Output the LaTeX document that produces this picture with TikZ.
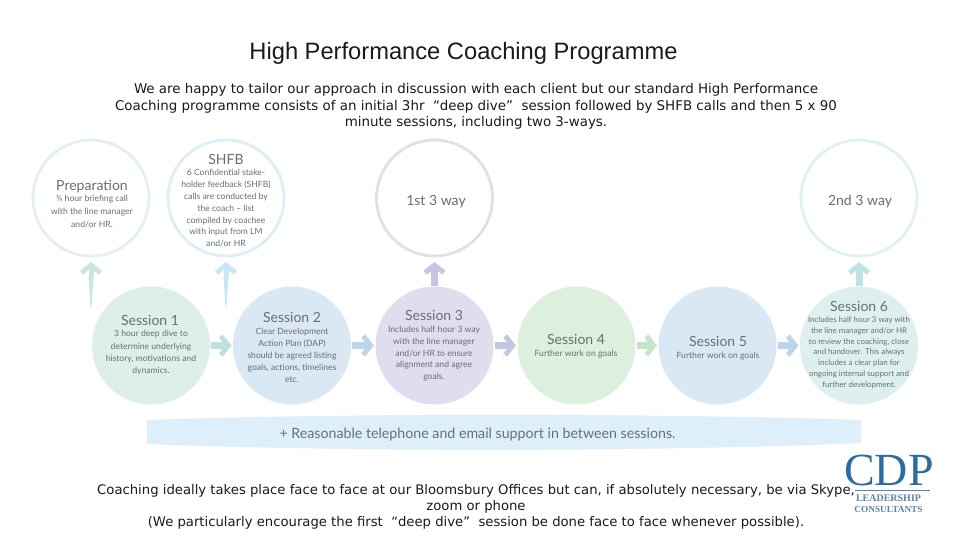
\documentclass[tikz,border=0pt]{standalone}
\usepackage{fontspec}
\setmainfont{DejaVu Sans}
\newfontfamily\titlefont{Liberation Sans}
\newfontfamily\circfont{Lato}
\newfontfamily\logofont{Liberation Serif}
\usetikzlibrary{arrows.meta}
\definecolor{txt}{HTML}{1A1A1A}
\definecolor{ctxt}{HTML}{6A6E72}
\definecolor{cgreen}{HTML}{DDEFE7}
\definecolor{cblue}{HTML}{DAE8F4}
\definecolor{cviolet}{HTML}{DEDEEE}
\definecolor{clime}{HTML}{DDF0DE}
\definecolor{cteal}{HTML}{DDF0EF}
\definecolor{rgreen}{HTML}{E2F1EB}
\definecolor{rblue}{HTML}{DEEEF8}
\definecolor{rgrey}{HTML}{E0E0E7}
\definecolor{rteal}{HTML}{DFF1F1}
\definecolor{band}{HTML}{DDEFFA}
\definecolor{agreen}{HTML}{CBE6DA}
\definecolor{ablue}{HTML}{C9E6F6}
\definecolor{aviolet}{HTML}{C5C6E2}
\definecolor{ateal}{HTML}{BFE3E3}
\definecolor{asteel}{HTML}{BBD6EA}
\definecolor{alime}{HTML}{C4E6C8}
\definecolor{atq}{HTML}{BFE0DE}
\definecolor{logoblue}{HTML}{2B6CA3}
\definecolor{logotext}{HTML}{5F83A3}
\tikzset{
  x=1pt,y=-1pt,
  circ/.style={circle,minimum size=118pt,inner sep=0pt,outer sep=0pt},
  ring/.style={circ,draw=#1,line width=2.8pt,minimum size=116pt},
  disc/.style={circ,fill=#1},
  body/.style={font=\fontsize{13.4}{16.5}\selectfont,text=txt,align=center,anchor=center},
  ctitle/.style={font=\circfont\fontsize{14}{16}\selectfont,text=ctxt,anchor=center},
  cbody/.style={font=\circfont\fontsize{8.6}{#1}\selectfont,text=ctxt,align=center,anchor=north},
  cbody/.default=12.3,
  flowtip/.style={-{Straight Barb[length=7.5pt,width=19pt,line width=5pt]}},
  hflow/.style={draw=#1,line width=7.5pt,flowtip,shorten <=1pt,shorten >=1.5pt},
  vflow/.style={draw=#1,line width=7pt,flowtip,shorten <=1pt,shorten >=6pt},
  taper/.style={draw=#1,line width=5pt,flowtip,shorten >=6pt},
  logotxt/.style={inner sep=0pt,outer sep=0pt,anchor=center},
}
\begin{document}
\begin{tikzpicture}
\useasboundingbox (0,0) rectangle (960,540);
\fill[white] (0,0) rectangle (960,540);
% title and text
\node[font=\titlefont\fontsize{23.7}{26}\selectfont,text=txt] (title) at (463.5,53) {High Performance Coaching Programme};
\node[body] (intro) at (476,106.5) {We are happy to tailor our approach in discussion with each client but our standard High Performance\\Coaching programme consists of an initial 3hr \ “deep dive” \ session followed by SHFB calls and then 5 x 90\\minute sessions, including two 3-ways.};
\node[body,font=\fontsize{13.2}{16.3}\selectfont] (outro) at (476,507) {Coaching ideally takes place face to face at our Bloomsbury Offices but can, if absolutely necessary, be via Skype,\\zoom or phone\\(We particularly encourage the first \ “deep dive” \ session be done face to face whenever possible).};
% band
\fill[band] (147,420) .. controls (350,413) and (650,413) .. (861,420) -- (861,443) .. controls (650,452) and (350,452) .. (147,444) -- cycle;
\node[font=\circfont\fontsize{14.2}{16}\selectfont,text=ctxt] (support) at (477.5,434) {+ Reasonable telephone and email support in between sessions.};
% upper circles
\node[ring=rgreen] (prep) at (91,198) {};
\node[ring=rblue] (shfb) at (226,198) {};
\node[ring=rgrey] (way1) at (434.5,198) {};
\node[ring=rteal] (way2) at (859,198) {};
% sessions
\node[disc=cgreen] (s1) at (151,345.5) {};
\node[disc=cblue] (s2) at (292,345.5) {};
\node[disc=cviolet] (s3) at (434.5,345.5) {};
\node[disc=clime] (s4) at (576.5,345.5) {};
\node[disc=cblue] (s5) at (717.5,345.5) {};
\node[disc=cteal] (s6) at (859,345.5) {};
% connectors
\coordinate (a1) at (91,307);
\coordinate (a2) at (226,307);
\fill[agreen] ([xshift=-.5pt]a1) -- ([xshift=-2.5pt,yshift=31pt]a1) -- ([xshift=2.5pt,yshift=31pt]a1) -- ([xshift=.5pt]a1) -- cycle;
\fill[ablue] ([xshift=-.5pt]a2) -- ([xshift=-2.5pt,yshift=31pt]a2) -- ([xshift=2.5pt,yshift=31pt]a2) -- ([xshift=.5pt]a2) -- cycle;
\draw[taper=agreen] ([yshift=30pt]a1) -- (prep.south);
\draw[taper=ablue] ([yshift=30pt]a2) -- (shfb.south);
\draw[vflow=aviolet] (s3.north) -- (way1.south);
\draw[vflow=ateal] (s6.north) -- (way2.south);
\draw[hflow=atq] (s1.east) -- (s2.west);
\draw[hflow=asteel] (s2.east) -- (s3.west);
\draw[hflow=aviolet] (s3.east) -- (s4.west);
\draw[hflow=alime] (s4.east) -- (s5.west);
\draw[hflow=asteel] (s5.east) -- (s6.west);
% circle text
\node[ctitle] (tprep) at (92,186.5) {Preparation};
\node[cbody=12.6] (bprep) at (92,192) {¾ hour briefing call\\with the line manager\\and/or HR.};
\node[ctitle] (tshfb) at (226,159) {SHFB};
\node[cbody=11.8] (bshfb) at (226,166) {6 Confidential stake-\\holder feedback (SHFB)\\calls are conducted by\\the coach – list\\compiled by coachee\\with input from LM\\and/or HR};
\node[ctitle] (tw1) at (436,201.5) {1st 3 way};
\node[ctitle] (tw2) at (860,201.5) {2nd 3 way};
\node[ctitle] (ts1) at (150,320) {Session 1};
\node[cbody] (bs1) at (151,327) {3 hour deep dive to\\determine underlying\\history, motivations and\\dynamics.};
\node[ctitle] (ts2) at (292,317) {Session 2};
\node[cbody=11.8] (bs2) at (292,325) {Clear Development\\Action Plan (DAP)\\should be agreed listing\\goals, actions, timelines\\etc.};
\node[ctitle] (ts3) at (434,315) {Session 3};
\node[cbody=11.7] (bs3) at (434,323) {Includes half hour 3 way\\with the line manager\\and/or HR to ensure\\alignment and agree\\goals.};
\node[ctitle] (ts4) at (576,339) {Session 4};
\node[cbody] (bs4) at (576,347) {Further work on goals};
\node[ctitle] (ts5) at (718,341) {Session 5};
\node[cbody] (bs5) at (718,349) {Further work on goals};
\node[ctitle] (ts6) at (859,306) {Session 6};
\node[cbody,font=\circfont\fontsize{7.9}{10.7}\selectfont] (bs6) at (859,313.5) {Includes half hour 3 way with\\the line manager and/or HR\\to review the coaching, close\\and handover. This always\\includes a clear plan for\\ongoing internal support and\\further development.};
% logo
\node[logotxt,font=\logofont\fontsize{46}{46}\selectfont,text=logoblue] (cdp) at (889,470) {CDP};
\coordinate (ruleL) at (855,490.7);
\coordinate (ruleR) at (930,490.7);
\draw[logotext,line width=.7pt] (ruleL) -- (ruleR);
\node[logotxt,font=\logofont\bfseries\fontsize{10}{11}\selectfont,text=logotext] (lead) at (888.5,498) {LEADERSHIP};
\node[logotxt,font=\logofont\bfseries\fontsize{9.3}{11}\selectfont,text=logotext] (cons) at (888.5,509) {CONSULTANTS};
\end{tikzpicture}
\end{document}
